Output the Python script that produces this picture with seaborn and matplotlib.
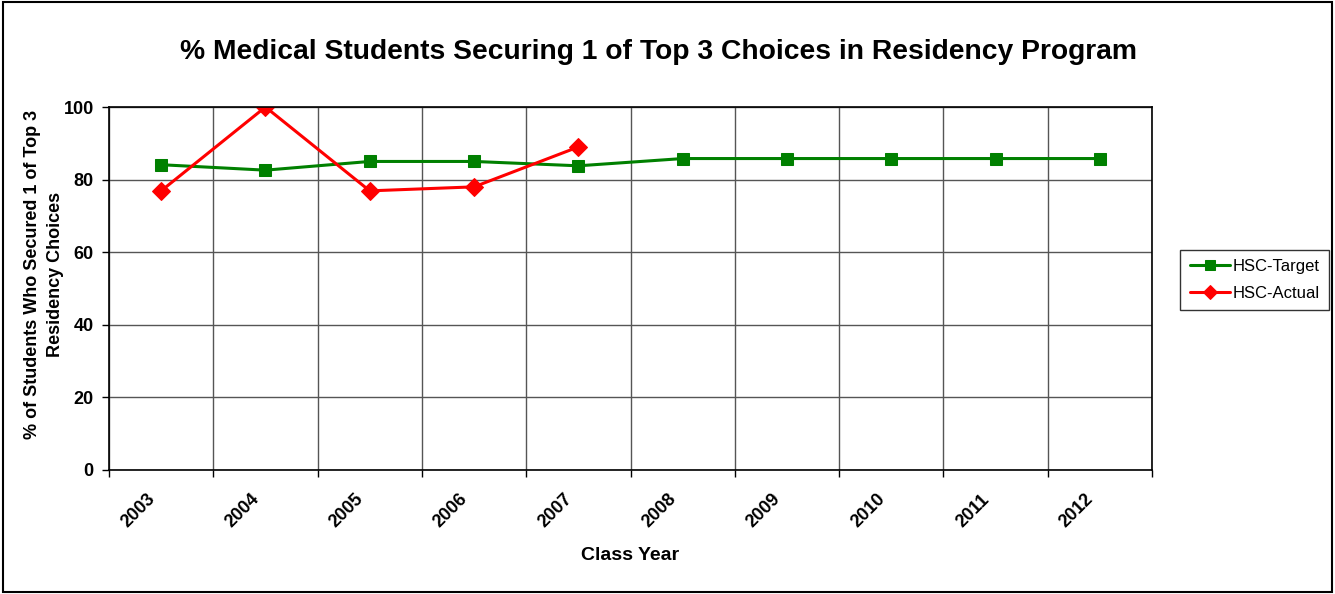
import matplotlib
matplotlib.use("Agg")
import matplotlib.pyplot as plt
import seaborn as sns
import pandas as pd
import numpy as np

years = ["2003", "2004", "2005", "2006", "2007", "2008", "2009", "2010", "2011", "2012"]
target = [84.1, 82.6, 85.0, 85.0, 83.8, 85.8, 85.8, 85.8, 85.8, 85.8]
actual_years = ["2003", "2004", "2005", "2006", "2007"]
actual = [76.9, 100.0, 76.9, 78.0, 89.0]
y_ticks = [0, 20, 40, 60, 80, 100]

sns.set_theme(style="white")
plt.rcParams['font.family'] = ['Liberation Sans', 'DejaVu Sans']
plt.rcParams['text.color'] = 'black'
plt.rcParams['axes.labelcolor'] = 'black'
plt.rcParams['xtick.color'] = 'black'
plt.rcParams['ytick.color'] = 'black'

fig = plt.figure(figsize=(13.35, 5.94), dpi=100)
ax = fig.add_axes([109/1335, 1 - 470/594, (1152-109)/1335, (470-107)/594])

df_t = pd.DataFrame({"x": [years.index(y) for y in years], "v": target})
df_a = pd.DataFrame({"x": [years.index(y) for y in actual_years], "v": actual})

sns.lineplot(data=df_t, x="x", y="v", ax=ax, color="#008000", marker="s", markersize=9,
             markeredgecolor="#008000", linewidth=2.2, label="HSC-Target")
sns.lineplot(data=df_a, x="x", y="v", ax=ax, color="#FF0000", marker="D", markersize=9,
             markeredgecolor="#FF0000", linewidth=2.2, label="HSC-Actual")

ax.set_xlim(-0.5, len(years) - 0.5)
ax.set_ylim(0, 100)
ax.set_yticks(y_ticks)
ax.set_yticklabels([str(t) for t in y_ticks], fontsize=13, fontweight="bold")
ax.set_xticks(range(len(years)))
ax.set_xticklabels([])
for i, yr in enumerate(years):
    ax.annotate(yr, xy=(i, 0), xycoords=("data", "axes fraction"), xytext=(-10.8, -15),
                textcoords="offset points", rotation=45, ha="right", va="top",
                rotation_mode="anchor", fontsize=13, fontweight="bold", annotation_clip=False)
ax.set_xticks(np.arange(-0.5, len(years), 1.0), minor=True)
ax.tick_params(axis="x", which="major", length=0, pad=18)
ax.tick_params(axis="x", which="minor", length=5, color="black", width=1, direction="out", bottom=True)
ax.tick_params(axis="y", which="major", length=5, color="black", width=1, direction="out", left=True, pad=6)
ax.grid(False)
ax.grid(True, which="minor", axis="x", color="#555555", linewidth=1)
ax.grid(True, which="major", axis="y", color="#555555", linewidth=1)
for s in ax.spines.values():
    s.set_color("black")
    s.set_linewidth(1.2)

ax.set_xlabel("Class Year", fontsize=14, fontweight="bold")
ax.xaxis.set_label_coords(0.5, -(555 - 470) / 363)
ax.xaxis.label.set_va("center")
ax.set_ylabel("% of Students Who Secured 1 of Top 3\nResidency Choices", fontsize=13,
              fontweight="bold", linespacing=1.45)
ax.yaxis.set_label_coords(-45/1043, 0.5 + 14/363)
fig.suptitle("% Medical Students Securing 1 of Top 3 Choices in Residency Program",
             fontsize=20.3, fontweight="bold", x=659/1335, y=1 - 52/594, va="center")

leg = ax.legend(loc="center left", bbox_to_anchor=(1172/1335, 1 - 280/594), bbox_transform=fig.transFigure,
                frameon=True, fancybox=False, edgecolor="black", fontsize=12, handlelength=2.4,
                handletextpad=0.2, borderpad=0.55, labelspacing=0.75, markerscale=0.8)
leg.get_frame().set_linewidth(1)

fig.patches.append(plt.Rectangle((0.002, 0.003), 0.996, 0.994, transform=fig.transFigure,
                                 fill=False, edgecolor="black", linewidth=1.5))

fig.savefig("out.png", dpi=100)
